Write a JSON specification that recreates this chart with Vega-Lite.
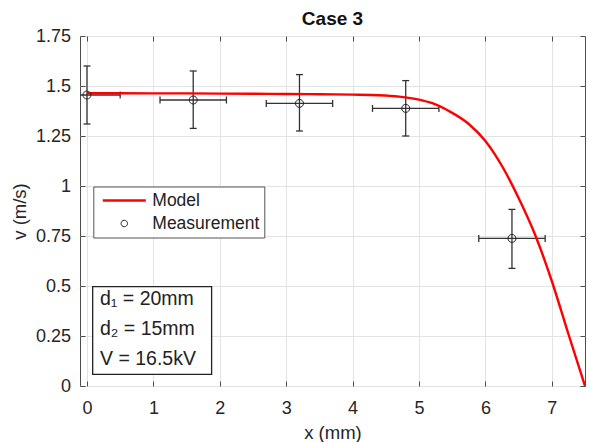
{
  "$schema": "https://vega.github.io/schema/vega-lite/v6.json",
  "width": 505,
  "height": 350,
  "autosize": {"type": "none"},
  "padding": {"left": 80, "top": 36, "right": 4, "bottom": 56},
  "background": "white",
  "title": {"text": "Case 3", "fontSize": 19, "fontWeight": "bold", "font": "Liberation Sans", "color": "#111111", "anchor": "middle", "baseline": "bottom", "offset": -21},
  "datasets": {
    "model": [
      {"x": 0, "v": 1.464}, {"x": 0.5, "v": 1.464}, {"x": 1, "v": 1.463}, {"x": 1.5, "v": 1.463},
      {"x": 2, "v": 1.462}, {"x": 2.5, "v": 1.461}, {"x": 3, "v": 1.46}, {"x": 3.5, "v": 1.459},
      {"x": 4, "v": 1.457}, {"x": 4.4, "v": 1.454}, {"x": 4.7, "v": 1.447}, {"x": 5.0, "v": 1.432},
      {"x": 5.2, "v": 1.414}, {"x": 5.45, "v": 1.375}, {"x": 5.75, "v": 1.31}, {"x": 6.0, "v": 1.225},
      {"x": 6.25, "v": 1.1}, {"x": 6.5, "v": 0.94}, {"x": 6.75, "v": 0.755}, {"x": 7.0, "v": 0.525},
      {"x": 7.25, "v": 0.26}, {"x": 7.5, "v": 0}
    ],
    "meas": [
      {"x": 0, "v": 1.455, "xlo": -0.5, "xhi": 0.5, "vlo": 1.31, "vhi": 1.6, "series": "Measurement"},
      {"x": 1.6, "v": 1.43, "xlo": 1.1, "xhi": 2.1, "vlo": 1.288, "vhi": 1.575, "series": "Measurement"},
      {"x": 3.2, "v": 1.413, "xlo": 2.7, "xhi": 3.7, "vlo": 1.275, "vhi": 1.557, "series": "Measurement"},
      {"x": 4.8, "v": 1.388, "xlo": 4.3, "xhi": 5.3, "vlo": 1.25, "vhi": 1.527, "series": "Measurement"},
      {"x": 6.4, "v": 0.738, "xlo": 5.9, "xhi": 6.9, "vlo": 0.588, "vhi": 0.883, "series": "Measurement"}
    ],
    "notes": [
      {"label": "d₁ = 20mm", "x": 0.196, "y": 0.405},
      {"label": "d₂ = 15mm", "x": 0.196, "y": 0.255},
      {"label": "V = 16.5kV", "x": 0.196, "y": 0.105}
    ],
    "box": [{"x1": 0.086, "x2": 1.877, "y1": 0.0585, "y2": 0.4965}]
  },
  "layer": [
    {
      "data": {"name": "meas"},
      "mark": {"type": "rule", "color": "#333333", "strokeWidth": 1.3, "clip": true},
      "encoding": {
        "x": {"field": "x", "type": "quantitative", "scale": {"domain": [-0.105, 7.5], "nice": false, "zero": false},
              "axis": {"orient": "top", "values": [0, 1, 2, 3, 4, 5, 6, 7], "labels": false, "grid": false, "domain": false, "ticks": true, "tickSize": -5, "title": null}},
        "y": {"field": "vlo", "type": "quantitative", "scale": {"domain": [0, 1.75], "nice": false, "zero": false},
              "axis": {"orient": "right", "values": [0, 0.25, 0.5, 0.75, 1, 1.25, 1.5, 1.75], "labels": false, "grid": false, "domain": false, "ticks": true, "tickSize": -5, "title": null}},
        "y2": {"field": "vhi"}
      }
    },
    {
      "data": {"name": "meas"},
      "mark": {"type": "rule", "color": "#333333", "strokeWidth": 1.3, "clip": true},
      "encoding": {
        "x": {"field": "xlo", "type": "quantitative", "scale": {"domain": [-0.105, 7.5], "nice": false, "zero": false}, "axis": null},
        "x2": {"field": "xhi"},
        "y": {"field": "v", "type": "quantitative", "scale": {"domain": [0, 1.75], "nice": false, "zero": false}, "axis": null}
      }
    },
    {
      "data": {"name": "meas"},
      "mark": {"type": "tick", "orient": "horizontal", "size": 7, "thickness": 1.3, "color": "#333333", "opacity": 1, "clip": true},
      "encoding": {
        "x": {"field": "x", "type": "quantitative", "scale": {"domain": [-0.105, 7.5], "nice": false, "zero": false}, "axis": null},
        "y": {"field": "vlo", "type": "quantitative", "scale": {"domain": [0, 1.75], "nice": false, "zero": false}, "axis": null}
      }
    },
    {
      "data": {"name": "meas"},
      "mark": {"type": "tick", "orient": "horizontal", "size": 7, "thickness": 1.3, "color": "#333333", "opacity": 1, "clip": true},
      "encoding": {
        "x": {"field": "x", "type": "quantitative", "scale": {"domain": [-0.105, 7.5], "nice": false, "zero": false}, "axis": null},
        "y": {"field": "vhi", "type": "quantitative", "scale": {"domain": [0, 1.75], "nice": false, "zero": false}, "axis": null}
      }
    },
    {
      "data": {"name": "meas"},
      "mark": {"type": "tick", "orient": "vertical", "size": 7, "thickness": 1.3, "color": "#333333", "opacity": 1, "clip": true},
      "encoding": {
        "x": {"field": "xlo", "type": "quantitative", "scale": {"domain": [-0.105, 7.5], "nice": false, "zero": false}, "axis": null},
        "y": {"field": "v", "type": "quantitative", "scale": {"domain": [0, 1.75], "nice": false, "zero": false}, "axis": null}
      }
    },
    {
      "data": {"name": "meas"},
      "mark": {"type": "tick", "orient": "vertical", "size": 7, "thickness": 1.3, "color": "#333333", "opacity": 1, "clip": true},
      "encoding": {
        "x": {"field": "xhi", "type": "quantitative", "scale": {"domain": [-0.105, 7.5], "nice": false, "zero": false}, "axis": null},
        "y": {"field": "v", "type": "quantitative", "scale": {"domain": [0, 1.75], "nice": false, "zero": false}, "axis": null}
      }
    },
    {
      "data": {"name": "model"},
      "mark": {"type": "line", "color": "#ff0000", "strokeWidth": 2.4, "interpolate": "monotone", "clip": true},
      "encoding": {
        "x": {"field": "x", "type": "quantitative", "scale": {"domain": [-0.105, 7.5], "nice": false, "zero": false},
              "axis": {"orient": "bottom", "values": [0, 1, 2, 3, 4, 5, 6, 7], "format": "d", "title": "x (mm)", "grid": true, "domain": false, "ticks": true, "tickSize": -5, "labelPadding": 18.4, "titlePadding": 6, "labelFlush": false, "labelOverlap": false}},
        "y": {"field": "v", "type": "quantitative", "scale": {"domain": [0, 1.75], "nice": false, "zero": false},
              "axis": {"orient": "left", "values": [0, 0.25, 0.5, 0.75, 1, 1.25, 1.5, 1.75], "format": ".2~f", "title": "v (m/s)", "grid": true, "domain": false, "ticks": true, "tickSize": -5, "labelPadding": 14.5, "titlePadding": 6, "labelFlush": false, "labelOverlap": false}}
      }
    },
    {
      "data": {"name": "meas"},
      "mark": {"type": "point", "filled": false, "size": 2844, "opacity": 1},
      "encoding": {
        "x": {"field": "x", "type": "quantitative", "scale": {"domain": [-0.105, 7.5], "nice": false, "zero": false}, "axis": null},
        "y": {"field": "v", "type": "quantitative", "scale": {"domain": [0, 1.75], "nice": false, "zero": false}, "axis": null},
        "color": {"field": "series", "type": "nominal",
                  "scale": {"domain": ["Model", "Measurement"], "range": ["#ff0000", "#222222"]},
                  "legend": {"title": null, "orient": "none", "legendX": 13.3, "legendY": 150.5, "padding": 5, "symbolSize": 1849, "clipHeight": 18, "rowPadding": 5, "labelOffset": 5, "symbolOffset": 3, "strokeColor": "#555555", "fillColor": "#ffffff", "labelFontSize": 17.5, "labelColor": "#222222", "labelFont": "Liberation Sans"}},
        "shape": {"field": "series", "type": "nominal",
                  "scale": {"domain": ["Model", "Measurement"], "range": ["M-1,0L1,0", "M-0.15,0A0.15,0.15,0,1,0,0.15,0A0.15,0.15,0,1,0,-0.15,0Z"]},
                  "legend": {"title": null, "orient": "none"}},
        "strokeWidth": {"field": "series", "type": "ordinal",
                  "scale": {"type": "ordinal", "domain": ["Model", "Measurement"], "range": [2.5, 1]},
                  "legend": {"title": null, "orient": "none"}}
      }
    },
    {
      "data": {"name": "box"},
      "mark": {"type": "rect", "fill": "#ffffff", "stroke": "#222222", "strokeWidth": 1.3},
      "encoding": {
        "x": {"field": "x1", "type": "quantitative", "scale": {"domain": [-0.105, 7.5], "nice": false, "zero": false}, "axis": null},
        "x2": {"field": "x2"},
        "y": {"field": "y1", "type": "quantitative", "scale": {"domain": [0, 1.75], "nice": false, "zero": false}, "axis": null},
        "y2": {"field": "y2"}
      }
    },
    {
      "data": {"name": "notes"},
      "mark": {"type": "text", "align": "left", "baseline": "alphabetic", "fontSize": 19.5, "font": "Liberation Sans", "color": "#222222"},
      "encoding": {
        "x": {"field": "x", "type": "quantitative", "scale": {"domain": [-0.105, 7.5], "nice": false, "zero": false}, "axis": null},
        "y": {"field": "y", "type": "quantitative", "scale": {"domain": [0, 1.75], "nice": false, "zero": false}, "axis": null},
        "text": {"field": "label"}
      }
    }
  ],
  "resolve": {"axis": {"x": "independent", "y": "independent"}},
  "config": {
    "font": "Liberation Sans",
    "view": {"stroke": "#4d4d4d", "strokeWidth": 1},
    "axis": {
      "labelFont": "Liberation Sans", "labelFontSize": 18, "labelColor": "#262626",
      "titleFont": "Liberation Sans", "titleFontSize": 18.5, "titleFontWeight": "normal", "titleColor": "#262626",
      "gridColor": "#e3e3e3", "gridWidth": 1, "tickColor": "#4d4d4d", "tickWidth": 1
    }
  }
}
